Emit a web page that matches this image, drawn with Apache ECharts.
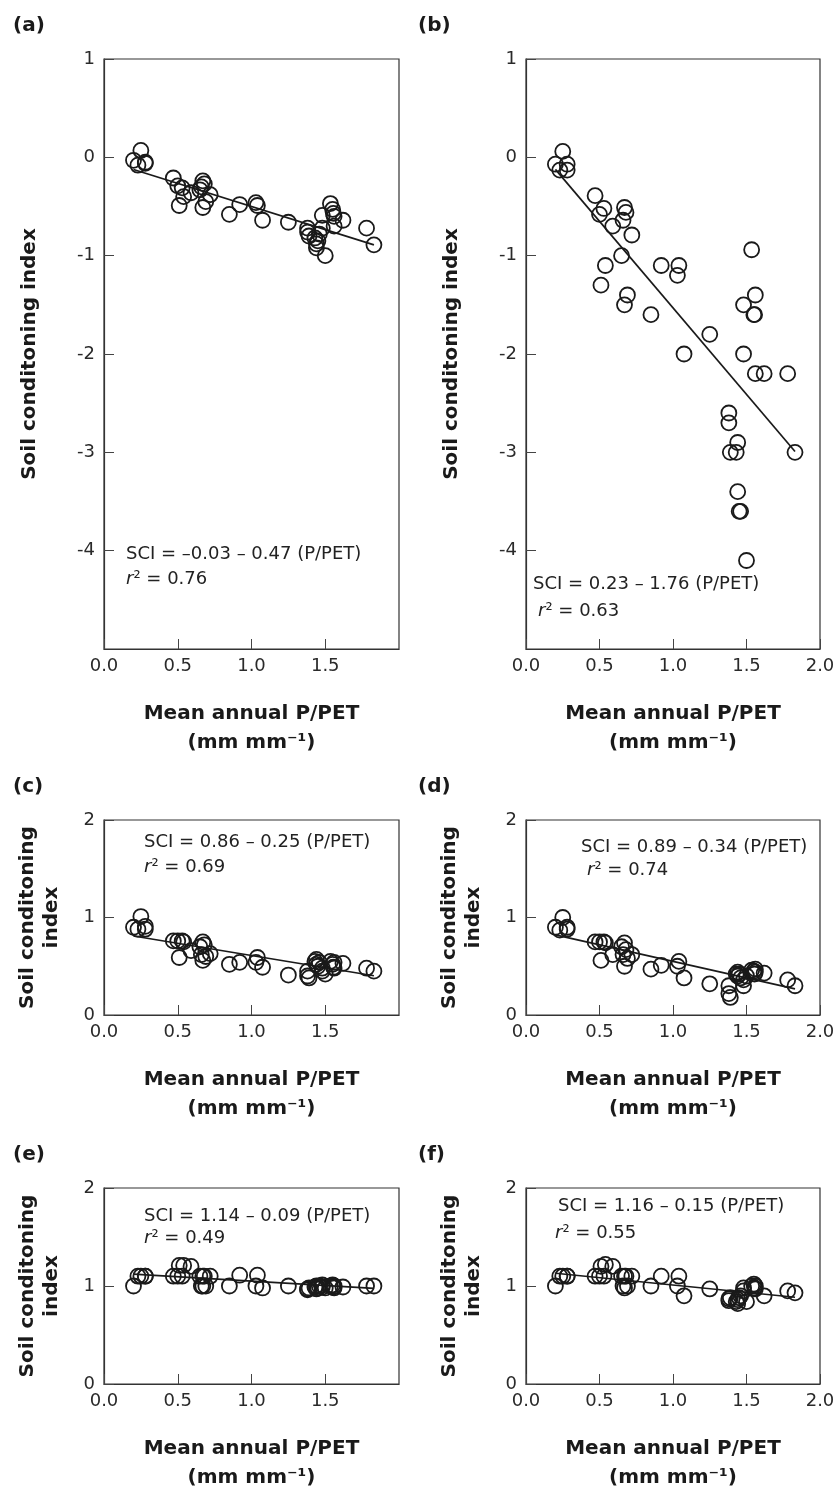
<!DOCTYPE html>
<html>
<head>
<meta charset="utf-8">
<title>Soil conditioning index vs P/PET</title>
<script src="https://cdn.jsdelivr.net/npm/echarts@6/dist/echarts.min.js"></script>
<style>
    html, body { margin: 0; padding: 0; background: #fff; }
    #main { width: 839px; height: 1494px; }
</style>
</head>
<body>
<div id="main"></div>
<script>
// site mean annual P/PET (shared by all panels)
var ppet = [0.20, 0.23, 0.25, 0.28, 0.28, 0.47, 0.50, 0.51, 0.53, 0.54, 0.59, 0.65, 0.66, 0.67, 0.67,
    0.68, 0.69, 0.72, 0.85, 0.92, 1.03, 1.04, 1.075, 1.25, 1.38, 1.38, 1.39, 1.43, 1.44, 1.44, 1.45,
    1.46, 1.48, 1.48, 1.50, 1.535, 1.55, 1.555, 1.56, 1.56, 1.62, 1.78, 1.83];

// soil conditioning index, one array per panel
var sciA = [-0.03, -0.08, 0.07, -0.05, -0.06, -0.21, -0.29, -0.49, -0.31, -0.40, -0.36, -0.33, -0.30, -0.24, -0.51,
    -0.27, -0.45, -0.38, -0.58, -0.48, -0.46, -0.49, -0.64, -0.66, -0.72, -0.76, -0.80, -0.82, -0.88, -0.92, -0.85,
    -0.78, -0.59, -0.72, -1.00, -0.47, -0.53, -0.57, -0.60, -0.70, -0.64, -0.72, -0.89];
var sciB = [-0.07, -0.13, 0.06, -0.07, -0.13, -0.39, -0.58, -1.30, -0.52, -1.10, -0.70, -1.00, -0.64, -0.51, -1.50,
    -0.56, -1.40, -0.79, -1.60, -1.10, -1.20, -1.10, -2.00, -1.80, -2.60, -2.70, -3.00, -3.00, -2.90, -3.40, -3.60,
    -3.60, -1.50, -2.00, -4.10, -0.94, -1.60, -1.60, -1.40, -2.20, -2.20, -2.20, -3.00];
var sciC = [0.90, 0.88, 1.01, 0.91, 0.88, 0.76, 0.76, 0.59, 0.76, 0.75, 0.66, 0.70, 0.62, 0.75, 0.56,
    0.72, 0.60, 0.63, 0.52, 0.54, 0.54, 0.59, 0.49, 0.41, 0.45, 0.40, 0.38, 0.55, 0.57, 0.52, 0.50,
    0.54, 0.45, 0.48, 0.42, 0.55, 0.52, 0.49, 0.54, 0.48, 0.53, 0.48, 0.45];
var sciD = [0.90, 0.87, 1.00, 0.90, 0.88, 0.75, 0.75, 0.56, 0.75, 0.74, 0.62, 0.70, 0.62, 0.74, 0.50,
    0.67, 0.58, 0.62, 0.47, 0.51, 0.50, 0.55, 0.38, 0.32, 0.30, 0.22, 0.18, 0.42, 0.44, 0.40, 0.42,
    0.38, 0.30, 0.36, 0.40, 0.46, 0.45, 0.42, 0.47, 0.44, 0.43, 0.36, 0.30];
var sciE = [1.00, 1.10, 1.10, 1.10, 1.10, 1.10, 1.10, 1.21, 1.10, 1.21, 1.20, 1.10, 1.00, 1.10, 1.00,
    1.10, 1.00, 1.10, 1.00, 1.11, 1.00, 1.11, 0.98, 1.00, 0.96, 0.97, 0.98, 0.99, 1.00, 0.97, 0.98,
    1.00, 0.99, 1.01, 0.98, 1.00, 1.01, 0.99, 1.00, 0.98, 0.99, 1.00, 1.00];
var sciF = [1.00, 1.10, 1.10, 1.10, 1.10, 1.10, 1.10, 1.20, 1.10, 1.22, 1.20, 1.10, 1.00, 1.10, 0.98,
    1.10, 1.00, 1.10, 1.00, 1.10, 1.00, 1.10, 0.90, 0.97, 0.87, 0.85, 0.88, 0.84, 0.82, 0.86, 0.88,
    0.90, 0.95, 0.98, 0.84, 1.00, 1.02, 0.98, 1.00, 0.97, 0.90, 0.95, 0.93];

// regression: [intercept, slope] and r2
var fitA = [-0.03, -0.47], fitB = [0.23, -1.76], fitC = [0.86, -0.25];
var fitD = [0.89, -0.34], fitE = [1.14, -0.09], fitF = [1.16, -0.15];
var r2 = [0.76, 0.63, 0.69, 0.74, 0.49, 0.55];

var panelNames = ['(a)', '(b)', '(c)', '(d)', '(e)', '(f)'];
var xTicks = [0, 2, 0.5];          // min, max, interval
var yTicksTall = [-5, 1, 1];
var yTicksShort = [0, 2, 1];

var FONT = 'DejaVu Sans';
var INK = '#1a1a1a';

// layout (pixels)
var layout = [
    {left: 104, top: 59, width: 295, height: 590, title: [8, 11], text: [126, 545, 126, 570], yName: 'Soil conditoning index', yGap: 62},
    {left: 526, top: 59, width: 294, height: 590, title: [413, 11], text: [533, 575, 538, 602], yName: 'Soil conditoning index', yGap: 62},
    {left: 104, top: 820, width: 295, height: 195, title: [8, 772], text: [144, 833, 144, 858], yName: 'Soil conditoning\nindex', yGap: 40},
    {left: 526, top: 820, width: 294, height: 195, title: [413, 772], text: [581, 838, 587, 861], yName: 'Soil conditoning\nindex', yGap: 40},
    {left: 104, top: 1188, width: 295, height: 196, title: [8, 1140], text: [144, 1207, 144, 1229], yName: 'Soil conditoning\nindex', yGap: 40},
    {left: 526, top: 1188, width: 294, height: 196, title: [413, 1140], text: [558, 1197, 555, 1224], yName: 'Soil conditoning\nindex', yGap: 40}
];

function pairs(xs, ys) {
    var out = [];
    for (var i = 0; i < xs.length; i++) {
        out.push([xs[i], ys[i]]);
    }
    return out;
}

function fitLine(xs, fit) {
    var lo = Math.min.apply(null, xs);
    var hi = Math.max.apply(null, xs);
    return [[lo, fit[0] + fit[1] * lo], [hi, fit[0] + fit[1] * hi]];
}

function fmt(v) {
    return (v < 0 ? '\u2013' : '') + Math.abs(v).toFixed(2);
}

function draw_panels() {
    var myChart = echarts.init(document.getElementById('main'));
    var sets = [sciA, sciB, sciC, sciD, sciE, sciF];
    var fits = [fitA, fitB, fitC, fitD, fitE, fitF];

    var grids = [], xAxes = [], yAxes = [], series = [], titles = [], texts = [];

    for (var i = 0; i < 6; i++) {
        var L = layout[i];
        var yt = i < 2 ? yTicksTall : yTicksShort;
        var rightCol = (i % 2 === 1);

        grids.push({
            left: L.left, top: L.top, width: L.width, height: L.height,
            show: true, borderColor: '#333', borderWidth: 1.2, backgroundColor: 'transparent'
        });

        xAxes.push({
            type: 'value', gridIndex: i,
            min: xTicks[0], max: xTicks[1], interval: xTicks[2],
            name: 'Mean annual P/PET\n(mm mm\u207b\u00b9)',
            nameLocation: 'middle', nameGap: 50,
            nameTextStyle: {fontFamily: FONT, fontWeight: 'bold', fontSize: 20, lineHeight: 29, color: INK},
            axisLine: {onZero: false, lineStyle: {color: '#333', width: 1.2}},
            axisTick: {inside: true, length: 10, lineStyle: {color: '#444'}},
            axisLabel: {
                fontFamily: FONT, fontSize: 18, color: '#2a2a2a', margin: 8,
                showMaxLabel: rightCol,
                formatter: function (v) { return v.toFixed(1); }
            },
            splitLine: {show: false}
        });

        yAxes.push({
            type: 'value', gridIndex: i,
            min: yt[0], max: yt[1], interval: yt[2],
            name: L.yName,
            nameLocation: 'middle', nameGap: L.yGap, nameRotate: 90,
            nameTextStyle: {fontFamily: FONT, fontWeight: 'bold', fontSize: 20, lineHeight: 24, color: INK},
            axisLine: {onZero: false, lineStyle: {color: '#333', width: 1.2}},
            axisTick: {inside: true, length: 10, lineStyle: {color: '#444'}},
            axisLabel: {
                fontFamily: FONT, fontSize: 18, color: '#2a2a2a', margin: 9,
                showMinLabel: i >= 2
            },
            splitLine: {show: false}
        });

        series.push({
            type: 'line', xAxisIndex: i, yAxisIndex: i,
            data: fitLine(ppet, fits[i]),
            symbol: 'none', z: 1,
            lineStyle: {color: INK, width: 1.7}
        });

        series.push({
            type: 'scatter', xAxisIndex: i, yAxisIndex: i,
            data: pairs(ppet, sets[i]),
            symbol: 'circle', symbolSize: 15, z: 2,
            itemStyle: {color: 'rgba(0,0,0,0)', borderColor: INK, borderWidth: 1.8, opacity: 1}
        });

        titles.push({
            text: panelNames[i], left: L.title[0], top: L.title[1],
            textStyle: {fontFamily: FONT, fontWeight: 'bold', fontSize: 20, color: INK}
        });

        texts.push({
            type: 'text', left: L.text[0], top: L.text[1],
            style: {
                text: 'SCI = ' + fmt(fits[i][0]) + ' \u2013 ' + Math.abs(fits[i][1]).toFixed(2) + ' (P/PET)',
                font: '18px "' + FONT + '"', fill: '#222'
            }
        });
        texts.push({
            type: 'text', left: L.text[2], top: L.text[3],
            style: {
                text: '{i|r}\u00b2 = ' + r2[i].toFixed(2),
                font: '18px "' + FONT + '"', fill: '#222',
                rich: {i: {fontStyle: 'italic', fontSize: 18, fontFamily: FONT, fill: '#222'}}
            }
        });
    }

    var option = {
        animation: false,
        backgroundColor: '#fff',
        title: titles,
        grid: grids,
        xAxis: xAxes,
        yAxis: yAxes,
        series: series,
        graphic: texts
    };

    myChart.setOption(option);
}

draw_panels();
</script>
</body>
</html>
